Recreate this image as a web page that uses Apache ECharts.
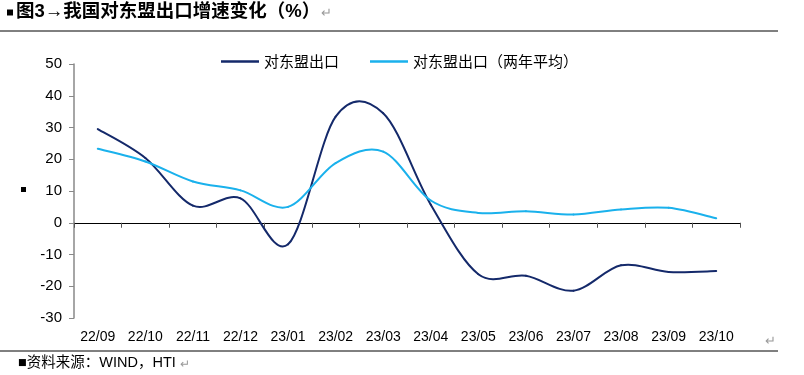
<!DOCTYPE html>
<html>
<head>
<meta charset="utf-8">
<script src="https://cdn.jsdelivr.net/npm/echarts@6/dist/echarts.min.js"></script>
<style>
	html, body { margin: 0; padding: 0; background: #fff; }
	#chart { width: 804px; height: 375px; }
</style>
</head>
<body>
<div id="chart"></div>
<script>
const months = ["22/09", "22/10", "22/11", "22/12", "23/01", "23/02", "23/03", "23/04", "23/05", "23/06", "23/07", "23/08", "23/09", "23/10"];
const exportGrowth = [29.5, 20.4, 5.4, 7.7, -6.8, 33.4, 34.5, 5.7, -16.2, -16.7, -21.4, -13.4, -15.5, -15.2];
const exportGrowth2y = [23.3, 19.3, 13.0, 10.2, 5.0, 18.8, 22.4, 7.0, 3.1, 3.6, 2.6, 4.2, 4.7, 1.4];
const seriesNames = ["对东盟出口", "对东盟出口（两年平均）"];

const chart = echarts.init(document.getElementById("chart"));
const cjk = "'Noto Sans CJK SC', sans-serif";
const latin = "'Liberation Sans', Arial, sans-serif";
const mixed = "'Liberation Sans', 'Noto Sans CJK SC', sans-serif";

// Excel-style smoothed line: one Catmull-Rom bezier segment per point, positioned through api.coord
function smoothLine(values, color) {
	return function (params, api) {
		const i = params.dataIndex;
		if (i >= values.length - 1) return null;
		const pt = k => {
			const j = Math.max(0, Math.min(values.length - 1, k));
			return api.coord([j, values[j]]);
		};
		const p0 = pt(i - 1), p1 = pt(i), p2 = pt(i + 1), p3 = pt(i + 2);
		const c1 = [p1[0] + (p2[0] - p0[0]) / 6, p1[1] + (p2[1] - p0[1]) / 6];
		const c2 = [p2[0] - (p3[0] - p1[0]) / 6, p2[1] - (p3[1] - p1[1]) / 6];
		return {
			type: "bezierCurve",
			shape: { x1: p1[0], y1: p1[1], cpx1: c1[0], cpy1: c1[1], cpx2: c2[0], cpy2: c2[1], x2: p2[0], y2: p2[1] },
			style: { stroke: color, lineWidth: 2, fill: "none", lineCap: "round" }
		};
	};
}

const option = {
	animation: false,
	grid: {
		left: 74,
		right: 64,
		top: 64,
		bottom: 57
	},
	legend: {
		left: 216,
		top: 49,
		itemGap: 31,
		itemWidth: 38,
		itemHeight: 2.5,
		icon: "rect",
		textStyle: {
			fontFamily: cjk,
			fontSize: 15,
			color: "#000"
		},
		data: seriesNames
	},
	xAxis: [{
		type: "category",
		data: months,
		boundaryGap: true,
		position: "bottom",
		axisLine: { onZero: true, lineStyle: { color: "#000", width: 1 } },
		axisTick: { show: true, length: 5, lineStyle: { color: "#555" } },
		axisLabel: { show: false },
		splitLine: { show: false }
	}, {
		type: "category",
		data: months,
		position: "bottom",
		axisLine: { show: false, onZero: false },
		axisTick: { show: false },
		axisLabel: {
			margin: 12,
			fontFamily: latin,
			fontSize: 14,
			color: "#000"
		},
		splitLine: { show: false }
	}],
	yAxis: {
		type: "value",
		min: -30,
		max: 50,
		interval: 10,
		axisLine: { show: true, lineStyle: { color: "#888", width: 1.5 } },
		axisTick: { show: true, length: 5, lineStyle: { color: "#888" } },
		axisLabel: {
			margin: 12,
			fontFamily: latin,
			fontSize: 15,
			color: "#000"
		},
		splitLine: { show: false }
	},
	series: [{
		name: seriesNames[0],
		type: "custom",
		xAxisIndex: 0,
		data: exportGrowth.map((v, i) => [i, v]),
		encode: { x: 0, y: 1 },
		itemStyle: { color: "#14296a" },
		renderItem: smoothLine(exportGrowth, "#14296a")
	}, {
		name: seriesNames[1],
		type: "custom",
		xAxisIndex: 0,
		data: exportGrowth2y.map((v, i) => [i, v]),
		encode: { x: 0, y: 1 },
		itemStyle: { color: "#1ab1ec" },
		renderItem: smoothLine(exportGrowth2y, "#1ab1ec")
	}],
	graphic: [
		{
			type: "rect",
			shape: { x: 7, y: 9.5, width: 6, height: 6 },
			style: { fill: "#000" }
		},
		{
			type: "text",
			left: 16,
			top: 3,
			style: {
				text: "图3→我国对东盟出口增速变化（%）",
				fontFamily: mixed,
				fontSize: 18.5,
				fontWeight: "bold",
				fill: "#000"
			}
		},
		{
			type: "text",
			left: 321,
			top: 6,
			style: { text: "↵", fontFamily: cjk, fontSize: 13, fill: "#999" }
		},
		{
			type: "line",
			shape: { x1: 0, y1: 31, x2: 778, y2: 31 },
			style: { stroke: "#000", lineWidth: 1 }
		},
		{
			type: "rect",
			shape: { x: 21, y: 187, width: 5, height: 5 },
			style: { fill: "#000" }
		},
		{
			type: "text",
			left: 765,
			top: 334,
			style: { text: "↵", fontFamily: cjk, fontSize: 13, fill: "#999" }
		},
		{
			type: "line",
			shape: { x1: 0, y1: 351, x2: 778, y2: 351 },
			style: { stroke: "#000", lineWidth: 1 }
		},
		{
			type: "text",
			left: 18,
			top: 356,
			style: {
				text: "■资料来源：WIND，HTI",
				fontFamily: mixed,
				fontSize: 14.5,
				fill: "#000"
			}
		},
		{
			type: "text",
			left: 180,
			top: 357,
			style: { text: "↵", fontFamily: cjk, fontSize: 12, fill: "#999" }
		}
	]
};

chart.setOption(option);
window.onresize = chart.resize;
</script>
</body>
</html>
